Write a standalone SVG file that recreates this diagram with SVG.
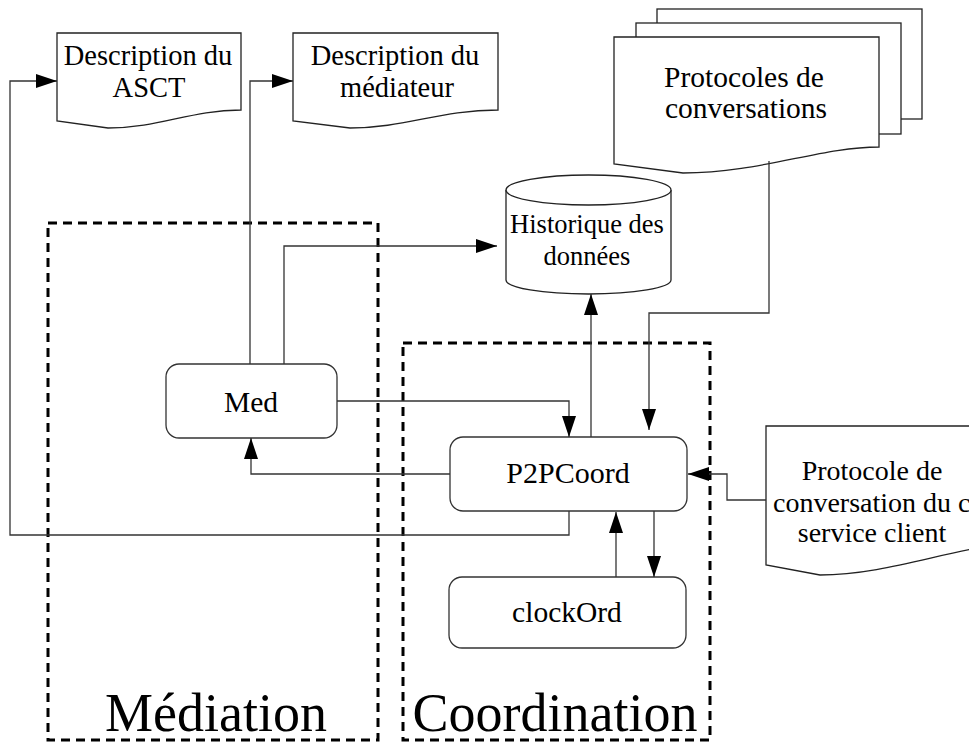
<svg xmlns="http://www.w3.org/2000/svg" width="969" height="742" viewBox="0 0 969 742">
<style>
  text { font-family: "Liberation Serif", "Times New Roman", serif; fill: #000; text-anchor: middle; }
  .shape { fill: #fff; stroke: #222; stroke-width: 1.3; }
  .box { fill: #fff; stroke: #333; stroke-width: 1.3; }
  .group { fill: none; stroke: #000; stroke-width: 3; stroke-dasharray: 9 6; }
  .conn { fill: none; stroke: #333; stroke-width: 1.3; }
</style>
<defs>
  <marker id="arr" markerUnits="userSpaceOnUse" markerWidth="22" markerHeight="14" refX="21" refY="7" orient="auto">
    <path d="M0,0 L21,7 L0,14 Z" fill="#000"/>
  </marker>
</defs>
<rect width="969" height="742" fill="#fff"/>

<g id="group-mediation">
  <rect class="group" x="48" y="223" width="330" height="517"/>
  <text x="216" y="731" font-size="54">Médiation</text>
</g>
<g id="group-coordination">
  <rect class="group" x="403" y="343" width="307" height="397"/>
  <text x="555" y="731" font-size="54">Coordination</text>
</g>

<g id="doc-asct">
  <path class="shape" d="M57,33 H241 V110 C190,110 160,128 108,128 L57,121 Z"/>
  <text x="148" y="65" font-size="28.5">Description du</text>
  <text x="149" y="97" font-size="28.5">ASCT</text>
</g>
<g id="doc-mediateur">
  <path class="shape" d="M293,33 H498 V110 C440,110 405,128 350,128 L293,121 Z"/>
  <text x="395" y="65" font-size="28.5">Description du</text>
  <text x="397" y="97" font-size="28.5">médiateur</text>
</g>

<g id="doc-protocoles">
  <rect class="shape" x="657" y="9" width="265" height="110"/>
  <rect class="shape" x="636" y="23" width="265" height="111"/>
  <path class="shape" d="M614,37 H879 V147 C820,147 760,173 683,173 L614,164 Z"/>
  <text x="744" y="87" font-size="29.5">Protocoles de</text>
  <text x="746" y="118" font-size="29.5">conversations</text>
</g>

<g id="historique">
  <path class="shape" d="M506,190 V280 A82.5,14 0 0 0 671,280 V190"/>
  <ellipse class="shape" cx="588.5" cy="190" rx="82.5" ry="15"/>
  <text x="587" y="233" font-size="26.5">Historique des</text>
  <text x="587" y="265" font-size="26.5">données</text>
</g>

<g id="med">
  <rect class="box" x="166" y="364" width="171" height="74" rx="13"/>
  <text x="251" y="412" font-size="29.5">Med</text>
</g>
<g id="p2pcoord">
  <rect class="box" x="450" y="437" width="237" height="74" rx="13"/>
  <text x="568" y="483" font-size="30">P2PCoord</text>
</g>
<g id="clockord">
  <rect class="box" x="449" y="577" width="237" height="71" rx="13"/>
  <text x="567" y="622" font-size="29.5">clockOrd</text>
</g>

<g id="doc-client">
  <path class="shape" d="M766,426 H1010 V545 C960,545 890,575 820,575 L766,565 Z"/>
  <text x="872" y="480" font-size="28">Protocole de</text>
  <text x="773" y="512" font-size="28" style="text-anchor:start">conversation du c</text>
  <text x="872" y="542" font-size="28">service client</text>
</g>

<g id="connectors">
  <path class="conn" d="M569,511 V535 H10 V81 H57" marker-end="url(#arr)"/>
  <path class="conn" d="M250,364 V81 H293" marker-end="url(#arr)"/>
  <path class="conn" d="M284,364 V246 H497" marker-end="url(#arr)"/>
  <path class="conn" d="M337,401 H569 V437" marker-end="url(#arr)"/>
  <path class="conn" d="M450,474 H251 V438" marker-end="url(#arr)"/>
  <path class="conn" d="M591,437 V294" marker-end="url(#arr)"/>
  <path class="conn" d="M769,161 V313 H649 V430" marker-end="url(#arr)"/>
  <path class="conn" d="M766,500 H727 V474 H688" marker-end="url(#arr)"/>
  <path class="conn" d="M616,577 V512" marker-end="url(#arr)"/>
  <path class="conn" d="M654,511 V577" marker-end="url(#arr)"/>
</g>
</svg>
